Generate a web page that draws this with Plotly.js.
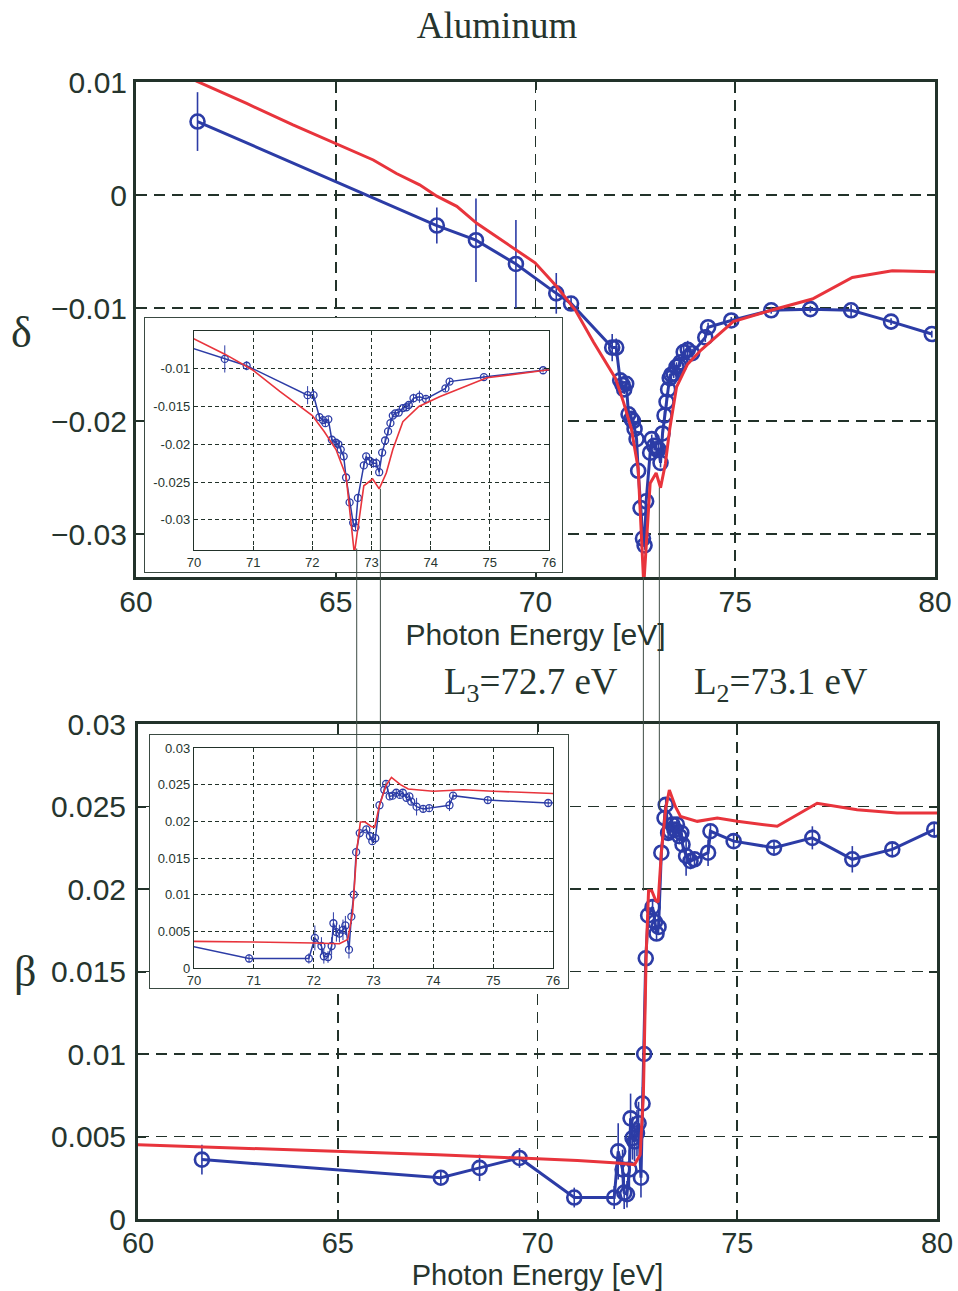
<!DOCTYPE html>
<html>
<head>
<meta charset="utf-8">
<script src="https://cdn.plot.ly/plotly-3.0.1.min.js"></script>
<style>html,body{margin:0;padding:0;background:#fff;}#chart{width:958px;height:1291px;}</style>
</head>
<body>
<div id="chart"></div>
<script>
// ---------- DATA ----------
// delta: measured (blue) and model (red)
const deltaE = [61.54,67.53,68.51,69.51,70.52,70.89,71.92,72.02,72.12,72.18,72.22,72.27,72.33,72.40,72.44,72.48,72.53,72.57,72.63,72.69,72.73,72.77,72.87,72.91,72.97,73.03,73.08,73.13,73.18,73.23,73.28,73.32,73.36,73.40,73.46,73.53,73.59,73.63,73.71,73.81,73.92,74.25,74.32,74.90,75.90,76.88,77.90,78.90,79.92];
const deltaMeas = [0.0065,-0.0027,-0.0040,-0.0061,-0.0087,-0.0096,-0.0135,-0.0135,-0.0164,-0.0168,-0.0172,-0.0167,-0.0194,-0.0198,-0.0200,-0.0207,-0.0216,-0.0244,-0.0277,-0.0304,-0.0310,-0.0271,-0.0228,-0.0216,-0.0222,-0.0225,-0.0225,-0.0237,-0.0211,-0.0195,-0.0183,-0.0172,-0.0162,-0.0159,-0.0158,-0.0152,-0.0151,-0.0148,-0.0139,-0.0137,-0.0140,-0.0126,-0.0117,-0.0111,-0.0102,-0.0101,-0.0102,-0.0112,-0.0123];
const deltaErr = [0.0026,0.0016,0.0037,0.0039,0.0018,0.0006,0.0012,0.0008,0.0005,0.0004,0.0004,0.0004,0.0004,0.0005,0.0004,0.0004,0.0004,0.0004,0.0004,0.0004,0.0004,0.0004,0.0004,0.0004,0.0004,0.0006,0.0007,0.0004,0.0004,0.0004,0.0004,0.0004,0.0004,0.0004,0.0004,0.0004,0.0004,0.0004,0.0006,0.0008,0.0004,0.0004,0.0004,0.0003,0.0003,0.0003,0.0005,0.0003,0.0003];
const deltaModelE = [61.5,62.77,63.93,64.98,65.94,66.52,67.1,67.53,68.03,68.53,69.53,69.99,70.53,71.0,71.45,72.0,72.2,72.4,72.57,72.71,72.87,73.02,73.13,73.25,73.36,73.53,73.8,74.15,74.95,75.9,76.93,77.93,78.93,80.0];
const deltaModel = [0.0101,0.0081,0.0062,0.0046,0.0031,0.0019,0.0009,-0.0001,-0.0010,-0.0025,-0.0049,-0.0060,-0.0081,-0.0102,-0.0130,-0.0162,-0.0183,-0.0207,-0.0242,-0.0345,-0.0255,-0.0246,-0.0259,-0.0238,-0.0207,-0.0170,-0.0150,-0.0137,-0.0112,-0.0102,-0.0092,-0.0073,-0.0067,-0.0068];

// beta: measured (blue) and model (red)
const betaE = [61.6,67.58,68.55,69.55,70.92,71.92,72.02,72.13,72.17,72.24,72.30,72.33,72.38,72.43,72.49,72.53,72.59,72.63,72.67,72.71,72.77,72.88,72.94,72.98,73.03,73.10,73.18,73.21,73.27,73.32,73.38,73.44,73.49,73.55,73.60,73.63,73.72,73.83,73.93,74.27,74.33,74.91,75.92,76.88,77.88,78.88,79.93];
const betaMeas = [0.0036,0.0025,0.0031,0.0037,0.0013,0.0013,0.0041,0.0030,0.0016,0.0015,0.0030,0.0061,0.0049,0.0047,0.0052,0.0058,0.0025,0.0070,0.0100,0.0158,0.0184,0.0189,0.0180,0.0173,0.0177,0.0222,0.0243,0.0251,0.0234,0.0235,0.0239,0.0236,0.0239,0.0232,0.0234,0.0227,0.0220,0.0217,0.0218,0.0222,0.0235,0.0229,0.0225,0.0231,0.0218,0.0224,0.0236];
const betaErr = [0.0009,0.0004,0.0008,0.0006,0.0006,0.0007,0.0017,0.0012,0.0010,0.0008,0.0012,0.0015,0.0013,0.0012,0.0014,0.0013,0.0012,0.0010,0.0008,0.0006,0.0006,0.0004,0.0004,0.0004,0.0004,0.0004,0.0004,0.0004,0.0004,0.0004,0.0004,0.0004,0.0004,0.0004,0.0004,0.0004,0.0012,0.0005,0.0004,0.0008,0.0004,0.0004,0.0004,0.0007,0.0008,0.0004,0.0004];
const betaModelE = [60.0,62.5,65.0,67.5,70.0,71.0,72.0,72.43,72.57,72.65,72.72,72.78,72.86,72.96,73.02,73.1,73.21,73.3,73.45,73.58,74.0,74.5,75.0,76.0,77.0,78.0,79.0,80.0];
const betaModel = [0.0045,0.0043,0.0041,0.0039,0.00365,0.00355,0.0034,0.0033,0.0039,0.0075,0.0160,0.0199,0.0199,0.0193,0.0192,0.0222,0.0249,0.0260,0.0250,0.0244,0.0241,0.0243,0.0241,0.0238,0.0252,0.0248,0.0246,0.0246];

// absorption edges
const edgeNames = ['L<sub>3</sub>=72.7 eV', 'L<sub>2</sub>=73.1 eV'];
const edgeMain = [72.7, 73.1];
const edgeInset = [72.75, 73.15];
const edgeDeltaTop = [-0.0338, -0.0259];
const edgeBetaEnd = [0.0199, 0.0248];

// tick labels
const mainX = [60, 65, 70, 75, 80];
const deltaTicks = [0.01, 0, -0.01, -0.02, -0.03];
const betaTicks = [0, 0.005, 0.01, 0.015, 0.02, 0.025, 0.03];
const insetX = [70, 71, 72, 73, 74, 75, 76];
const insetDeltaTicks = [-0.03, -0.025, -0.02, -0.015, -0.01];
const insetBetaTicks = [0, 0.005, 0.01, 0.015, 0.02, 0.025, 0.03];

// ---------- STYLE / LAYOUT ----------
const W = 958, H = 1291;
const fx = p => p / W;
const fy = p => 1 - p / H;
const BLUE = '#2c3ca6', RED = '#e8343c', INK = '#22322a', TXT = '#26352e';

const dom = {
  x1: [fx(136), fx(935)], y1: [fy(577), fy(82)],
  x2: [fx(138), fx(937)], y2: [fy(1219), fy(724)],
  x3: [fx(145), fx(562)], y3: [fy(572), fy(318)],
  x4: [fx(150), fx(568)], y4: [fy(988), fy(735)],
  x5: [fx(194), fx(549)], y5: [fy(550), fy(331)],
  x6: [fx(194), fx(553)], y6: [fy(968), fy(748)]
};
const rng = {
  x1: [60, 80], y1: [-0.0338, 0.01],
  x2: [60, 80], y2: [0, 0.03],
  x5: [70, 76], y5: [-0.034, -0.005],
  x6: [70, 76], y6: [0, 0.03]
};
const toPaper = (k, v) => dom[k][0] + (v - rng[k][0]) / (rng[k][1] - rng[k][0]) * (dom[k][1] - dom[k][0]);

const sans = 'Liberation Sans, Arial, sans-serif';
const serif = 'Liberation Serif, Times New Roman, serif';

function mainAxis(d, r, tv, extra) {
  return Object.assign({
    domain: d, range: r, tickvals: tv, ticktext: tv.map(String),
    showline: true, linewidth: 3, linecolor: INK, mirror: 'ticks',
    ticks: 'inside', ticklen: 8, tickwidth: 2, tickcolor: INK,
    showgrid: true, gridcolor: INK, gridwidth: 1.6, griddash: '11px,7px',
    zeroline: false, tickfont: {family: sans, size: 30, color: TXT},
    fixedrange: true
  }, extra || {});
}
function insetAxis(d, r, tv, extra) {
  return Object.assign({
    domain: d, range: r, tickvals: tv, ticktext: tv.map(String),
    showline: true, linewidth: 1.2, linecolor: INK, mirror: 'ticks',
    ticks: 'inside', ticklen: 4, tickwidth: 1, tickcolor: INK,
    showgrid: true, gridcolor: INK, gridwidth: 1, griddash: '4px,3px',
    zeroline: false, tickfont: {family: sans, size: 13, color: TXT},
    fixedrange: true
  }, extra || {});
}
function frameAxis(d) {
  return {domain: d, range: [0, 1], showline: true, linewidth: 1, linecolor: '#3a4a42', mirror: true,
    ticks: '', showticklabels: false, showgrid: false, zeroline: false, fixedrange: true};
}
const titleFont = {family: sans, size: 30, color: TXT};

function meas(x, y, err, xa, ya, big) {
  return {
    type: 'scatter', mode: 'lines+markers', x: x, y: y, xaxis: xa, yaxis: ya,
    line: {color: BLUE, width: big ? 3 : 1.5},
    marker: {symbol: 'circle-open', size: big ? 14 : 7, color: BLUE, line: {width: big ? 2.6 : 1.3, color: BLUE}},
    error_y: {type: 'data', array: err, visible: true, width: 0, thickness: big ? 1.6 : 1, color: BLUE},
    hoverinfo: 'x+y', showlegend: false
  };
}
function model(x, y, xa, ya, big) {
  return {
    type: 'scatter', mode: 'lines', x: x, y: y, xaxis: xa, yaxis: ya,
    line: {color: RED, width: big ? 3 : 1.6}, hoverinfo: 'x+y', showlegend: false
  };
}

const data = [
  meas(deltaE, deltaMeas, deltaErr, 'x', 'y', true),
  model(deltaModelE, deltaModel, 'x', 'y', true),
  meas(betaE, betaMeas, betaErr, 'x2', 'y2', true),
  model(betaModelE, betaModel, 'x2', 'y2', true),
  {type: 'scatter', x: [], y: [], xaxis: 'x3', yaxis: 'y3', showlegend: false, hoverinfo: 'skip'},
  {type: 'scatter', x: [], y: [], xaxis: 'x4', yaxis: 'y4', showlegend: false, hoverinfo: 'skip'},
  meas(deltaE, deltaMeas, deltaErr, 'x5', 'y5', false),
  model(deltaModelE, deltaModel, 'x5', 'y5', false),
  meas(betaE, betaMeas, betaErr, 'x6', 'y6', false),
  model(betaModelE, betaModel, 'x6', 'y6', false)
];

const shapes = [];
for (let i = 0; i < 2; i++) {
  shapes.push({type: 'line', layer: 'above', xref: 'x', yref: 'paper',
    x0: edgeMain[i], x1: edgeMain[i], y0: toPaper('y1', edgeDeltaTop[i]), y1: toPaper('y2', edgeBetaEnd[i]),
    line: {color: '#3e4c45', width: 1}});
  shapes.push({type: 'line', layer: 'above', xref: 'x5', yref: 'paper',
    x0: edgeInset[i], x1: edgeInset[i], y0: toPaper('y5', Math.max(edgeDeltaTop[i], rng.y5[0])), y1: toPaper('y6', edgeBetaEnd[i] - 0.0001),
    line: {color: '#3e4c45', width: 1}});
}

const annotations = [
  {xref: 'paper', yref: 'paper', x: fx(21), y: fy(333), text: 'δ', showarrow: false,
   font: {family: serif, size: 44, color: TXT}, xanchor: 'center', yanchor: 'middle'},
  {xref: 'paper', yref: 'paper', x: fx(25), y: fy(972), text: 'β', showarrow: false,
   font: {family: serif, size: 44, color: TXT}, xanchor: 'center', yanchor: 'middle'},
  {xref: 'paper', yref: 'paper', x: fx(531), y: fy(684), text: edgeNames[0], showarrow: false,
   font: {family: serif, size: 37, color: TXT}, xanchor: 'center', yanchor: 'middle'},
  {xref: 'paper', yref: 'paper', x: fx(781), y: fy(684), text: edgeNames[1], showarrow: false,
   font: {family: serif, size: 37, color: TXT}, xanchor: 'center', yanchor: 'middle'}
];

const layout = {
  width: W, height: H, margin: {l: 0, r: 0, t: 0, b: 0},
  paper_bgcolor: '#ffffff', plot_bgcolor: '#ffffff', showlegend: false,
  title: {text: 'Aluminum', font: {family: serif, size: 37, color: TXT}, x: fx(497), xanchor: 'center', y: fy(25), yanchor: 'middle', xref: 'paper', yref: 'paper'},
  xaxis: mainAxis(dom.x1, rng.x1, mainX, {anchor: 'y', ticklabelstandoff: -4, title: {text: 'Photon Energy [eV]', font: titleFont, standoff: 0}}),
  yaxis: mainAxis(dom.y1, rng.y1, deltaTicks, {anchor: 'x', ticktext: ['0.01', '0', '−0.01', '−0.02', '−0.03']}),
  xaxis2: mainAxis(dom.x2, rng.x2, mainX, {anchor: 'y2', ticklabelstandoff: -4,
    tickfont: {family: sans, size: 29, color: TXT},
    title: {text: 'Photon Energy [eV]', font: {family: sans, size: 29, color: TXT}, standoff: 3}}),
  yaxis2: mainAxis(dom.y2, rng.y2, betaTicks, {anchor: 'x2', ticklabelstandoff: 3}),
  xaxis3: Object.assign(frameAxis(dom.x3), {anchor: 'y3'}),
  yaxis3: Object.assign(frameAxis(dom.y3), {anchor: 'x3'}),
  xaxis4: Object.assign(frameAxis(dom.x4), {anchor: 'y4'}),
  yaxis4: Object.assign(frameAxis(dom.y4), {anchor: 'x4'}),
  xaxis5: insetAxis(dom.x5, rng.x5, insetX, {anchor: 'y5'}),
  yaxis5: insetAxis(dom.y5, rng.y5, insetDeltaTicks, {anchor: 'x5', ticktext: ['-0.03', '-0.025', '-0.02', '-0.015', '-0.01']}),
  xaxis6: insetAxis(dom.x6, rng.x6, insetX, {anchor: 'y6'}),
  yaxis6: insetAxis(dom.y6, rng.y6, insetBetaTicks, {anchor: 'x6'}),
  shapes: shapes,
  annotations: annotations
};

Plotly.newPlot('chart', data, layout, {displayModeBar: false, staticPlot: true});
</script>
</body>
</html>
